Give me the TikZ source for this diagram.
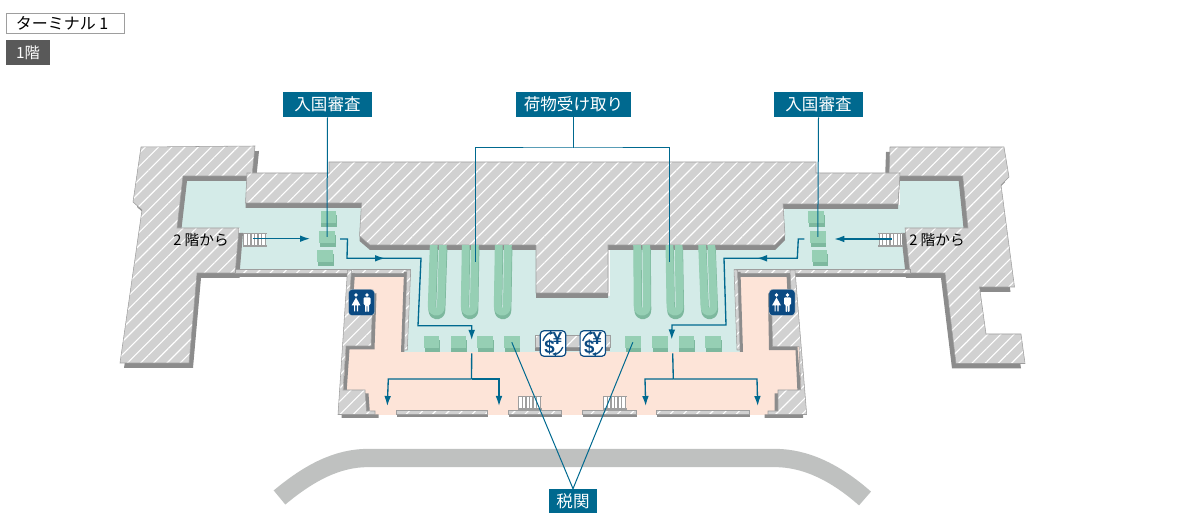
\documentclass[tikz,border=0pt]{standalone}
\usepackage{fontspec}
\setmainfont{Noto Sans CJK JP}
\setsansfont{Liberation Sans}
\usepackage{xcolor}
\usetikzlibrary{arrows.meta,patterns.meta,shadows}

\definecolor{wallgray}{HTML}{D1D1D1}
\definecolor{wallface}{HTML}{8C8C8C}
\definecolor{wallline}{HTML}{9E9E9E}
\definecolor{floormint}{HTML}{D4EBE8}
\definecolor{floorpink}{HTML}{FDE4D8}
\definecolor{beltgreen}{HTML}{96CFB4}
\definecolor{beltdark}{HTML}{7DB89E}
\definecolor{signblue}{HTML}{00698F}
\definecolor{iconblue}{HTML}{0B4A82}
\definecolor{roadgray}{HTML}{BFC1C0}

\tikzset{
	wall/.style={preaction={fill=wallgray},draw=wallline,line width=0.4pt,
		pattern={Lines[angle=45,distance=7pt,line width=0.85pt]},pattern color=white},
	sign/.style={fill=signblue,text=white,font=\fontsize{12.4}{12.4}\selectfont,inner sep=0pt,minimum height=18.75pt},
	leader/.style={draw=signblue,line width=0.75pt},
	route/.style={draw=signblue,line width=1pt},
	routetip/.style={route,-{Latex[length=7.5pt,width=5pt]}},
	booth/.style={fill=beltgreen,inner sep=0pt,minimum width=11.7pt,minimum height=9pt,
		general shadow={fill=beltdark,shadow xshift=0.6pt,shadow yshift=-2.8pt}},
	belt/.style={line width=5.8pt,line join=round},
	exarrow/.style={draw=iconblue,line width=1pt,-{Latex[length=3pt,width=3.4pt]}},
}

% wall: shift of the dark face, outline
\newcommand{\wallblock}[2]{
	\fill[wallface,shift={#1}] #2;
	\path[wall] #2;
}
% baggage belt: x at the top, x at the bottom
\newcommand{\carousel}[2]{
	\draw[belt,beltdark,shift={(0.6,3.6)}] (#1-4.6,245) -- (#2-4.6,306) .. controls (#2-4.6,314) and (#2+4.6,314) .. (#2+4.6,306) -- (#1+4.6,245);
	\draw[belt,beltgreen] (#1-4.6,245) -- (#2-4.6,306) .. controls (#2-4.6,314) and (#2+4.6,314) .. (#2+4.6,306) -- (#1+4.6,245);
}
\newcommand{\stairway}[2]{
	\begin{scope}[shift={(#1,#2)}]
		\fill[white] (0,0) rectangle (23,14);
		\foreach \i in {0,3.6,...,22} {
			\fill[wallline] (\i,0) rectangle (\i+1.3,14);
		}
		\fill[wallline] (-0.5,0) rectangle (24,1.5);
		\fill[wallline] (-0.5,12.5) rectangle (24,14);
	\end{scope}
}
\newcommand{\restroom}[3]{
	\node[fill=iconblue,rounded corners=2.5pt,draw=wallgray,line width=0.3pt,minimum size=19.5pt,inner sep=0pt] (#1) at (#2,#3) {};
	\begin{scope}[shift={(#2,#3)}]
		\fill[white] (-5.5,-7.5) circle (1.9);
		\fill[white] (5.5,-7.5) circle (1.9);
		\fill[white] (-5.5,-5) -- (-10,3) -- (-7.5,3) -- (-7.5,9) -- (-6.3,9) -- (-6.3,3) -- (-4.7,3) -- (-4.7,9) -- (-3.5,9) -- (-3.5,3) -- (-1,3) -- cycle;
		\fill[white,rounded corners=0.6pt] (2,-5) -- (9,-5) -- (9,2) -- (7.5,2) -- (7.5,9.5) -- (5.9,9.5) -- (5.9,3) -- (5.1,3) -- (5.1,9.5) -- (3.5,9.5) -- (3.5,2) -- (2,2) -- cycle;
	\end{scope}
}
\newcommand{\exchange}[3]{
	\node[fill=white,draw=iconblue,line width=0.9pt,rounded corners=2.5pt,minimum size=19pt,inner sep=0pt] (#1) at (#2,#3) {};
	\begin{scope}[shift={(#2,#3)}]
		\draw[exarrow] (165:7.8pt) arc[start angle=165,end angle=85,radius=7.8pt];
		\draw[exarrow] (-20:7.8pt) arc[start angle=-20,end angle=-95,radius=7.8pt];
		\node[text=iconblue,font=\sffamily\bfseries\fontsize{13}{13}\selectfont,inner sep=0pt] (#1y) at (4.5,-5) {¥};
		\node[text=iconblue,font=\sffamily\bfseries\fontsize{14}{14}\selectfont,inner sep=0pt] (#1d) at (-3.5,3.5) {\$};
	\end{scope}
}

\begin{document}
\begin{tikzpicture}[x=0.75pt,y=-0.75pt]
	\useasboundingbox (0,0) rectangle (1182,530);

	% road
	\draw[roadgray,line width=13.7pt] (279.5,497.5) .. controls (310,472) and (338,458) .. (368,458) -- (775,458) .. controls (805,458) and (835,472) .. (865,498.5);

	% floors
	\fill[floorpink] (350,272) -- (408,272) -- (404,352) -- (740,352) -- (737,272) -- (795,272) -- (806,415) -- (340,415) -- cycle;
	\fill[floormint] (182,176) -- (250,176) -- (250,205) -- (365,205) -- (365,245) -- (536,245) -- (536,296) -- (610,296) -- (610,245) -- (780,245) -- (785,205) -- (900,205) -- (900,176) -- (965,176) -- (970,230) -- (910,230) -- (912,272) -- (738,272) -- (742,352) -- (404,352) -- (408,272) -- (235,272) -- (240,228) -- (177,228) -- cycle;

	% walls
	\wallblock{(4,5)}{(141,147) -- (255,146) -- (252,176) -- (183,176) -- (177,228) -- (239,228) -- (235.5,269) -- (235.5,273) -- (197,273) -- (189,363) -- (120,363) -- (142,210) -- (133,202) -- cycle}
	\wallblock{(-4,5)}{(890,147) -- (1004,147) -- (1009,177) -- (1001,185) -- (1014.5,287) -- (979.5,287) -- (986,334) -- (1021,334) -- (1025,363.5) -- (956,363.5) -- (945,273) -- (910,273) -- (905,228) -- (968,228) -- (962.7,176) -- (889,176) -- cycle}
	\wallblock{(0,5)}{(247,173) -- (329,173) -- (329,162) -- (816,162) -- (816,173) -- (900,173) -- (898,204) -- (783,204) -- (785,235) -- (775,245) -- (608,245) -- (608,293) -- (536,293) -- (536,245) -- (370,245) -- (359.5,236) -- (361.5,203) -- (245.5,203) -- cycle}
	\wallblock{(0,3.7)}{(235,269.3) -- (410.7,269.3) -- (410.7,273) -- (235,273) -- cycle}
	\wallblock{(0,3.7)}{(734,269.3) -- (910,269.3) -- (910,273) -- (734,273) -- cycle}
	\wallblock{(-3,2)}{(407,270) -- (410.7,270) -- (407.3,350) -- (404,350) -- cycle}
	\wallblock{(3,2)}{(734,270) -- (737.5,270) -- (740,350) -- (737,350) -- cycle}
	\wallblock{(3.5,3.5)}{(347.5,270) -- (351.5,270) -- (350,290) -- (373,290) -- (371,346) -- (346,346) -- (343,390) -- (365,390) -- (366.5,411) -- (375,411) -- (375,414.5) -- (338,414.5) -- cycle}
	\wallblock{(-3.5,3.5)}{(790,270) -- (795,270) -- (806.7,414.5) -- (768,414.5) -- (768,411) -- (778,411) -- (778,390) -- (801,390) -- (799,346.7) -- (772.5,346.7) -- (771.5,290) -- (791,290) -- cycle}
	\wallblock{(0.5,3)}{(396,410.3) -- (487.5,410.3) -- (487.5,414.5) -- (396,414.5) -- cycle}
	\wallblock{(0.5,3)}{(508.5,410.3) -- (561.7,410.3) -- (561.7,414.5) -- (508.5,414.5) -- cycle}
	\wallblock{(0.5,3)}{(582.7,410.3) -- (636,410.3) -- (636,414.5) -- (582.7,414.5) -- cycle}
	\wallblock{(0.5,3)}{(656.7,410.3) -- (749,410.3) -- (749,414.5) -- (656.7,414.5) -- cycle}
	\wallblock{(0,4.5)}{(535,335.7) -- (610,335.7) -- (610,347) -- (535,347) -- cycle}

	% baggage belts
	\carousel{438.3}{436.3}
	\carousel{470.3}{469.3}
	\carousel{503.3}{502.3}
	\carousel{641.7}{642.2}
	\carousel{674}{675}
	\carousel{706.7}{709}

	% booths
	\node[booth] (immL1) at (328.3,217) {};
	\node[booth] (immL2) at (327,237) {};
	\node[booth] (immL3) at (325,256) {};
	\node[booth] (immR1) at (816,217) {};
	\node[booth] (immR2) at (817.8,237) {};
	\node[booth] (immR3) at (819.5,256) {};
	\node[booth] (cusL1) at (431.6,342.3) {};
	\node[booth] (cusL2) at (458.3,342.3) {};
	\node[booth] (cusL3) at (485.2,342.3) {};
	\node[booth] (cusL4) at (511.8,342.3) {};
	\node[booth] (cusR1) at (632.8,342.3) {};
	\node[booth] (cusR2) at (659.7,342.3) {};
	\node[booth] (cusR3) at (686.3,342.3) {};
	\node[booth] (cusR4) at (713,342.3) {};

	% stairs
	\stairway{243}{232.7}
	\stairway{878.5}{232.7}
	\stairway{518}{396}
	\stairway{603}{396}

	% routes
	\coordinate (stairsL) at (252.7,238.7);
	\coordinate (stairsR) at (891.7,239);
	\coordinate (gateL) at (310,238.7);
	\coordinate (gateR) at (834.3,239);
	\draw[routetip] (stairsL) -- (gateL);
	\draw[routetip] (stairsR) -- (gateR);

	\coordinate (outL) at (340,239);
	\coordinate (kneeL) at (347,258.3);
	\coordinate (midL) at (385,258.3);
	\coordinate (endL) at (471.7,340);
	\draw[routetip] (kneeL) -- (midL);
	\draw[routetip] (outL) -- (347.5,239) -- (kneeL) -- (421,258.3) -- (418,325.7) -- (471.7,325.7) -- (endL);

	\coordinate (outR) at (804.3,239);
	\coordinate (kneeR) at (797.3,258.3);
	\coordinate (midR) at (757,258.3);
	\coordinate (endR) at (671.7,339.5);
	\draw[routetip] (kneeR) -- (midR);
	\draw[routetip] (outR) -- (798.3,239) -- (kneeR) -- (724,258.3) -- (726,325) -- (672,325) -- (endR);

	\coordinate (teeL) at (471.5,379);
	\coordinate (exitL1) at (387.3,406);
	\coordinate (exitL2) at (499,406);
	\draw[route] (471.7,353.3) -- (teeL);
	\draw[routetip] (teeL) -- (388.3,379) -- (exitL1);
	\draw[routetip] (teeL) -- (499,379) -- (exitL2);

	\coordinate (teeR) at (673.3,379);
	\coordinate (exitR1) at (645.7,406);
	\coordinate (exitR2) at (757.7,406);
	\draw[route] (672.7,353.3) -- (teeR);
	\draw[routetip] (teeR) -- (645,379) -- (exitR1);
	\draw[routetip] (teeR) -- (757,379) -- (exitR2);

	% icons
	\restroom{wcL}{361.5}{302.5}
	\restroom{wcR}{782}{302.5}
	\exchange{moneyL}{553}{343.5}
	\exchange{moneyR}{592.8}{343.5}

	% signs
	\node[draw=wallline,line width=0.6pt,fill=white,inner sep=0pt,minimum width=88.5pt,minimum height=15pt] (terminal) at (65,23) {};
	\node[inner sep=0pt,font=\fontsize{12}{12}\selectfont] (terminaltext) at (62,23) {ターミナル 1};
	\node[fill=black!65,text=white,inner sep=0pt,minimum width=33pt,minimum height=18.75pt,font=\fontsize{11.5}{11.5}\selectfont] (floorno) at (28,52.5) {1階};
	\node[sign,minimum width=66.75pt] (immsignL) at (327.5,104.5) {入国審査};
	\node[sign,minimum width=66.75pt] (immsignR) at (818.5,104.5) {入国審査};
	\node[sign,minimum width=86.25pt] (bagsign) at (573.5,104.5) {荷物受け取り};
	\node[sign,minimum width=36pt,minimum height=18pt] (cussign) at (573,501) {税関};
	\node[inner sep=0pt,font=\fontsize{11}{11}\selectfont] (fromL) at (201,240) {2 階から};
	\node[inner sep=0pt,font=\fontsize{11}{11}\selectfont] (fromR) at (937,240) {2 階から};

	% leaders
	\coordinate (beltL) at (475,262);
	\coordinate (beltR) at (669,262);
	\coordinate (bagtee) at (573.5,148);
	\draw[leader] (bagsign) -- (bagtee);
	\draw[leader] (beltL) |- (bagtee) -| (beltR);
	\draw[leader] (immsignL.south) -- (immL2.center);
	\draw[leader] (immsignR.south) -- (immR2.center);
	\draw[leader] (cussign.north) -- (cusL4.center);
	\draw[leader] (cussign.north) -- (cusR1.center);
\end{tikzpicture}
\end{document}
